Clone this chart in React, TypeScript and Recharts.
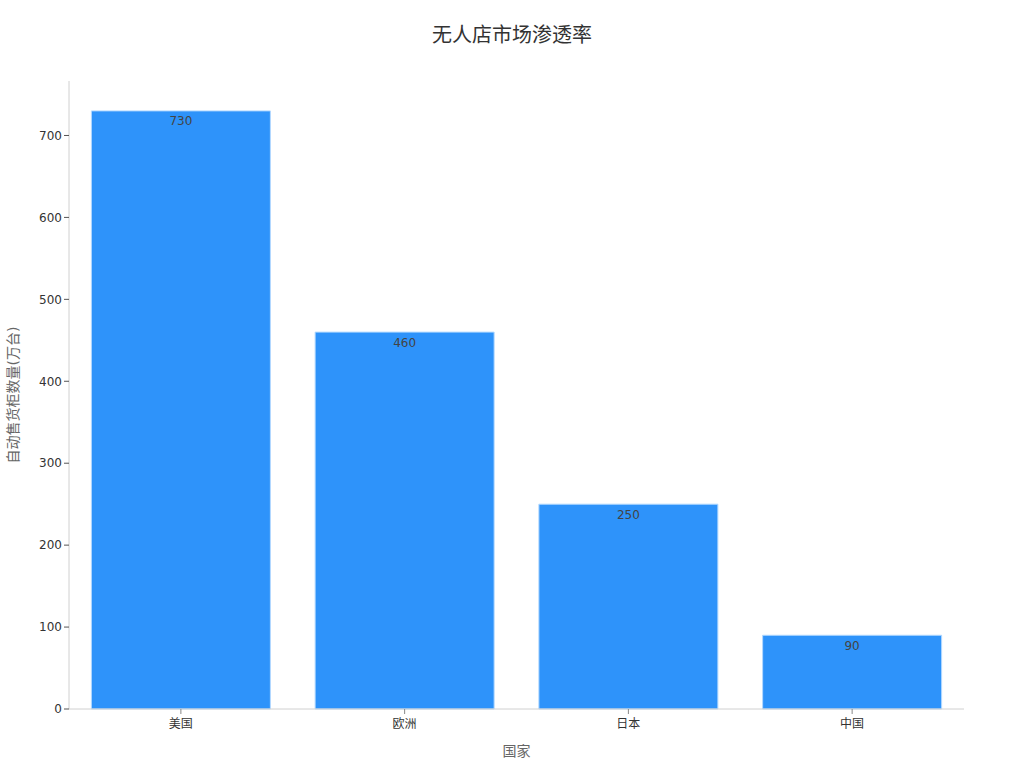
import React from "react";
import { Bar, BarChart, LabelList, Label, XAxis, YAxis } from "recharts";

const countries = ["美国", "欧洲", "日本", "中国"];
const machines = [730, 460, 250, 90];
const yTicks = [0, 100, 200, 300, 400, 500, 600, 700];

const data = countries.map((country, i) => ({ country, value: machines[i] }));

const font = "'DejaVu Sans', 'Noto Sans CJK SC', sans-serif";

export default function App() {
  return (
    <div style={{ position: "absolute", left: 0, top: 0, width: 1024, height: 768, background: "#fff", fontFamily: font }}>
      <div
        style={{
          position: "absolute",
          top: 19,
          left: 0,
          width: 1024,
          textAlign: "center",
          fontSize: 20,
          color: "#333",
          fontFamily: font,
        }}
      >
        无人店市场渗透率
      </div>
      <BarChart
        width={1024}
        height={768}
        data={data}
        margin={{ top: 81, right: 60, left: 1, bottom: 0 }}
        barCategoryGap="10%"
      >
        <XAxis
          dataKey="country"
          height={59}
          stroke="#d0d0d0"
          tickLine={{ stroke: "#888" }}
          tickSize={5}
          tick={{ fill: "#333", fontSize: 12, fontFamily: font, dy: 3 }}
        >
          <Label value="国家" position="insideBottom" offset={12} fill="#666" fontSize={14} fontFamily={font} />
        </XAxis>
        <YAxis
          width={68}
          domain={[0, 766.5]}
          ticks={yTicks}
          stroke="#d0d0d0"
          tickLine={{ stroke: "#555" }}
          tickSize={5}
          tick={{ fill: "#333", fontSize: 12, fontFamily: font }}
        >
          <Label
            value="自动售货柜数量(万台)"
            angle={-90}
            position="insideLeft"
            offset={12}
            fill="#666"
            fontSize={14}
            fontFamily={font}
            style={{ textAnchor: "middle" }}
          />
        </YAxis>
        <Bar dataKey="value" fill="#2E93FA" stroke="#B3D9FF" strokeWidth={1} isAnimationActive={false}>
          <LabelList dataKey="value" position="insideTop" offset={6} fill="#444" fontSize={12} fontFamily={font} />
        </Bar>
      </BarChart>
    </div>
  );
}
